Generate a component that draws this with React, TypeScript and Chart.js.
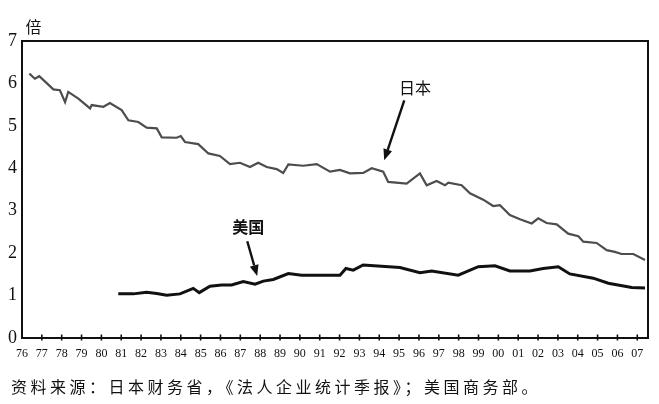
import React, { useEffect, useRef } from "react";
import { Chart, registerables } from "chart.js";
Chart.register(...registerables);

// 日本 (grey line): year (fractional), value (倍)
const jpYears = [
  1976.37, 1976.65, 1976.87, 1977.58, 1977.91, 1978.17, 1978.33, 1978.84, 1979.43, 1979.51,
  1980.1, 1980.43, 1981.02, 1981.36, 1981.86, 1982.28, 1982.79, 1983.04, 1983.79, 1984.0,
  1984.21, 1984.88, 1985.39, 1985.97, 1986.48, 1986.98, 1987.49, 1987.9, 1988.33, 1988.83,
  1989.16, 1989.42, 1990.17, 1990.85, 1991.52, 1992.02, 1992.52, 1993.19, 1993.62, 1994.2,
  1994.45, 1995.38, 1996.05, 1996.39, 1996.89, 1997.31, 1997.48, 1998.15, 1998.57, 1999.24,
  1999.74, 2000.08, 2000.58, 2001.09, 2001.68, 2002.01, 2002.43, 2002.94, 2003.52, 2004.03,
  2004.28, 2004.95, 2005.46, 2005.87, 2006.21, 2006.8, 2007.39,
];
const jpValues = [
  6.23, 6.11, 6.17, 5.86, 5.84, 5.56, 5.8, 5.64, 5.41, 5.49,
  5.45, 5.54, 5.37, 5.13, 5.09, 4.96, 4.94, 4.73, 4.72, 4.76,
  4.62, 4.57, 4.35, 4.29, 4.1, 4.13, 4.03, 4.13, 4.03, 3.98,
  3.89, 4.09, 4.06, 4.1, 3.92, 3.96, 3.88, 3.89, 4.0, 3.92,
  3.68, 3.64, 3.88, 3.6, 3.7, 3.6, 3.66, 3.6, 3.41, 3.26,
  3.11, 3.13, 2.9, 2.8, 2.7, 2.82, 2.71, 2.68, 2.46, 2.4,
  2.27, 2.24, 2.07, 2.03, 1.98, 1.98, 1.84,
];

// 美国 (black line)
const usYears = [
  1980.85, 1981.61, 1982.28, 1982.79, 1983.29, 1983.96, 1984.63, 1984.93, 1985.47, 1986.06,
  1986.56, 1987.15, 1987.74, 1988.16, 1988.66, 1989.42, 1990.09, 1991.52, 1992.02, 1992.32,
  1992.69, 1993.19, 1995.04, 1996.05, 1996.64, 1997.98, 1998.99, 1999.83, 2000.58, 2001.59,
  2002.26, 2003.02, 2003.6, 2004.78, 2005.54, 2006.72, 2007.39,
];
const usValues = [
  1.04, 1.04, 1.08, 1.05, 1.01, 1.04, 1.17, 1.07, 1.22, 1.25,
  1.25, 1.33, 1.27, 1.34, 1.38, 1.52, 1.48, 1.48, 1.48, 1.64,
  1.6, 1.72, 1.66, 1.54, 1.58, 1.48, 1.68, 1.7, 1.58, 1.58,
  1.64, 1.68, 1.51, 1.41, 1.29, 1.19, 1.18,
];

const xFirstYear = 1976;
const xLabels = [
  "76", "77", "78", "79", "80", "81", "82", "83", "84", "85", "86", "87", "88", "89", "90", "91",
  "92", "93", "94", "95", "96", "97", "98", "99", "00", "01", "02", "03", "04", "05", "06", "07",
];
const yMin = 0;
const yMax = 7;
const xMax = 2007.54;

const unitLabel = "倍";
const sourceNote = "资料来源：日本财务省，《法人企业统计季报》；美国商务部。";

// annotation labels with arrows, in data coordinates
const noteTexts = ["日本", "美国"];
const noteTextX = [1995.8, 1987.4];
const noteTextY = [5.89, 2.62];
const noteFromX = [1995.26, 1987.35];
const noteFromY = [5.6, 2.28];
const noteToX = [1994.25, 1987.85];
const noteToY = [4.19, 1.46];

const framePlugin = {
  id: "framePlugin",
  afterDraw(chart: any) {
    const ctx = chart.ctx;
    const xs = chart.scales.x;
    const ys = chart.scales.y;
    const L = xs.getPixelForValue(xFirstYear);
    const R = xs.getPixelForValue(xMax);
    const T = ys.getPixelForValue(yMax);
    const B = ys.getPixelForValue(yMin);
    ctx.save();
    ctx.setLineDash([]);
    ctx.strokeStyle = "#111";
    ctx.lineWidth = 2;
    ctx.strokeRect(L, T, R - L, B - T);
    // tick marks crossing the x axis
    ctx.lineWidth = 1.6;
    for (let i = 1; i < xLabels.length; i++) {
      const px = xs.getPixelForValue(xFirstYear + i);
      ctx.beginPath();
      ctx.moveTo(px, B - 3.5);
      ctx.lineTo(px, B + 2.5);
      ctx.stroke();
    }
    // annotations
    ctx.fillStyle = "#111";
    for (let i = 0; i < noteTexts.length; i++) {
      const fx = xs.getPixelForValue(noteFromX[i]);
      const fy = ys.getPixelForValue(noteFromY[i]);
      const tx = xs.getPixelForValue(noteToX[i]);
      const ty = ys.getPixelForValue(noteToY[i]);
      const ang = Math.atan2(ty - fy, tx - fx);
      const headLen = 11;
      const headW = 4.5;
      const bx = tx - headLen * Math.cos(ang);
      const by = ty - headLen * Math.sin(ang);
      ctx.lineWidth = 2.4;
      ctx.beginPath();
      ctx.moveTo(fx, fy);
      ctx.lineTo(bx, by);
      ctx.stroke();
      ctx.beginPath();
      ctx.moveTo(tx, ty);
      ctx.lineTo(bx + headW * Math.sin(ang), by - headW * Math.cos(ang));
      ctx.lineTo(bx - headW * Math.sin(ang), by + headW * Math.cos(ang));
      ctx.closePath();
      ctx.fill();
      ctx.font = (i === 1 ? "bold " : "") + "16px 'Noto Sans CJK SC'";
      ctx.textAlign = "center";
      ctx.textBaseline = "middle";
      ctx.fillText(noteTexts[i], xs.getPixelForValue(noteTextX[i]), ys.getPixelForValue(noteTextY[i]));
    }
    // unit label
    ctx.font = "16px 'Noto Sans CJK SC'";
    ctx.textAlign = "center";
    ctx.textBaseline = "middle";
    ctx.fillText(unitLabel, 33.5, 27);
    ctx.restore();
  },
};

export default function App() {
  const canvasRef = useRef<HTMLCanvasElement | null>(null);

  useEffect(() => {
    const canvas = canvasRef.current;
    if (!canvas) return;
    const chart = new Chart(canvas, {
      type: "line",
      data: {
        datasets: [
          {
            label: "日本",
            data: jpYears.map((x, i) => ({ x, y: jpValues[i] })),
            borderColor: "#4d4d4d",
            borderWidth: 2.2,
            pointRadius: 0,
            tension: 0,
            fill: false,
          },
          {
            label: "美国",
            data: usYears.map((x, i) => ({ x, y: usValues[i] })),
            borderColor: "#111",
            borderWidth: 3,
            pointRadius: 0,
            tension: 0,
            fill: false,
          },
        ],
      },
      options: {
        responsive: false,
        animation: false,
        layout: { padding: { left: 0, top: 41, right: 11, bottom: 0 } },
        plugins: {
          legend: { display: false },
          tooltip: { enabled: false },
          title: { display: false },
        },
        scales: {
          x: {
            type: "linear",
            min: xFirstYear,
            max: xMax,
            afterBuildTicks: (scale: any) => {
              scale.ticks = xLabels.map((_, i) => ({ value: xFirstYear + i }));
            },
            afterFit: (scale: any) => {
              scale.height = 66;
            },
            grid: { display: false, drawTicks: false },
            border: { display: false },
            ticks: {
              autoSkip: false,
              maxRotation: 0,
              padding: 9,
              color: "#111",
              font: { family: "'Liberation Serif', serif", size: 12 },
              callback: (v: any) => xLabels[Math.round(Number(v) - xFirstYear)] ?? "",
            },
          },
          y: {
            min: yMin,
            max: yMax,
            afterFit: (scale: any) => {
              scale.width = 22;
            },
            grid: { display: false, drawTicks: false },
            border: { display: false },
            ticks: {
              stepSize: 1,
              padding: 5,
              color: "#111",
              font: { family: "'Liberation Serif', serif", size: 18 },
            },
          },
        },
      },
      plugins: [framePlugin],
    });
    return () => chart.destroy();
  }, []);

  return (
    <div style={{ position: "fixed", left: 0, top: 0, width: 659, height: 404, background: "#fff" }}>
      <canvas ref={canvasRef} width={659} height={404} style={{ display: "block" }} />
      <div
        style={{
          position: "absolute",
          left: 11,
          top: 376,
          fontFamily: "'Noto Sans CJK SC', sans-serif",
          fontSize: 16,
          letterSpacing: "3.5px",
          lineHeight: "20px",
          color: "#111",
          whiteSpace: "nowrap",
        }}
      >
        {sourceNote}
      </div>
    </div>
  );
}
